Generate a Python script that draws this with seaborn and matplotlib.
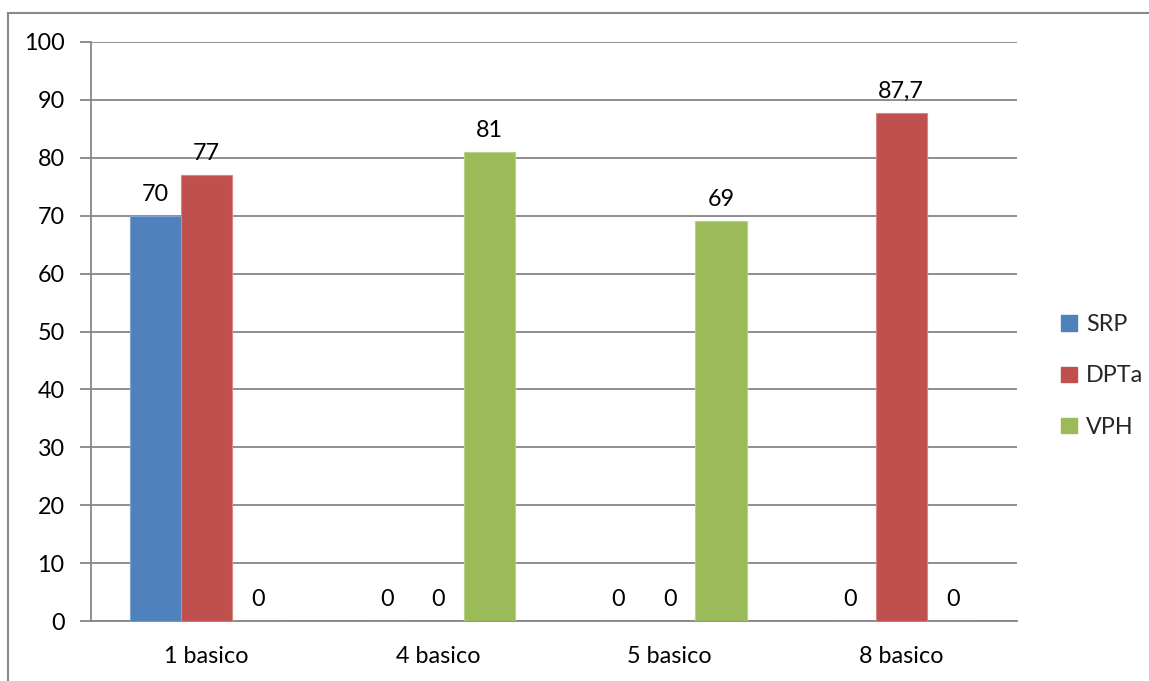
import matplotlib
matplotlib.use("Agg")
import matplotlib.pyplot as plt
import matplotlib.patches as mpatches
import seaborn as sns
import pandas as pd

categories = ["1 basico", "4 basico", "5 basico", "8 basico"]
series = ["SRP", "DPTa", "VPH"]
srp = [70, 0, 0, 0]
dpta = [77, 0, 0, 87.7]
vph = [0, 81, 69, 0]
colors = ["#4F81BD", "#C0504D", "#9BBB59"]
edge_colors = ["#7FA3D0", "#D88583", "#B8D08A"]

rows = []
for name, vals in zip(series, [srp, dpta, vph]):
    for cat, v in zip(categories, vals):
        rows.append({"categoria": cat, "serie": name, "valor": v})
df = pd.DataFrame(rows)

sns.set_theme(style="white")
plt.rcParams["font.family"] = ["Lato", "DejaVu Sans"]

grid_gray = "#868686"
fs = 16.8

fig = plt.figure(figsize=(11.49, 6.81), dpi=100)
ax = fig.add_axes([91 / 1149, 1 - 621 / 681, (1017 - 91) / 1149, (621 - 42) / 681])

sns.barplot(data=df, x="categoria", y="valor", hue="serie", order=categories,
            hue_order=series, palette=colors, width=0.667, saturation=1,
            legend=False, ax=ax, zorder=3)

# thin lighter edge on every bar, and value labels in decimal-comma format
for container, ec in zip(ax.containers, edge_colors):
    for bar in container:
        bar.set_edgecolor(ec)
        bar.set_linewidth(0.8)
    labels = []
    for bar in container:
        h = bar.get_height()
        labels.append(f"{h:g}".replace(".", ","))
    ax.bar_label(container, labels=labels, padding=8, fontsize=fs, color="black")

ax.set_xlim(-0.5, 3.5)
ax.set_ylim(0, 100)
ax.set_yticks(range(0, 101, 10))
ax.set_xlabel("")
ax.set_ylabel("")

ax.yaxis.grid(True, color=grid_gray, linewidth=1.3, zorder=0)
ax.set_axisbelow(True)
for side in ["top", "right"]:
    ax.spines[side].set_visible(False)
for side in ["left", "bottom"]:
    ax.spines[side].set_color(grid_gray)
    ax.spines[side].set_linewidth(1.3)

ax.set_xticks([i - 0.5 for i in range(5)], minor=True)
ax.tick_params(axis="x", which="major", length=0, pad=18, labelsize=fs, labelcolor="black")
ax.tick_params(axis="x", which="minor", length=8, width=1.3, color=grid_gray, direction="out")
ax.tick_params(axis="y", which="major", length=8, width=1.3, color=grid_gray,
               direction="out", pad=11, labelsize=fs, labelcolor="black", left=True)

# legend on the right
handles = [mpatches.Patch(facecolor=c, edgecolor=c, label=s) for c, s in zip(colors, series)]
fig.legend(handles=handles, loc="center left", bbox_to_anchor=(1052 / 1149, 1 - 376 / 681),
           frameon=False, fontsize=fs, handlelength=0.65, handleheight=0.65,
           handletextpad=0.4, labelspacing=1.3, borderaxespad=0)

# outer chart frame
frame = mpatches.Rectangle((8 / 1149, -0.05), 1.1, 1 - 13 / 681 + 0.05,
                           transform=fig.transFigure, fill=False,
                           edgecolor="#898989", linewidth=1.5, clip_on=False)
fig.patches.append(frame)

fig.savefig("out.png", dpi=100, facecolor="white")
